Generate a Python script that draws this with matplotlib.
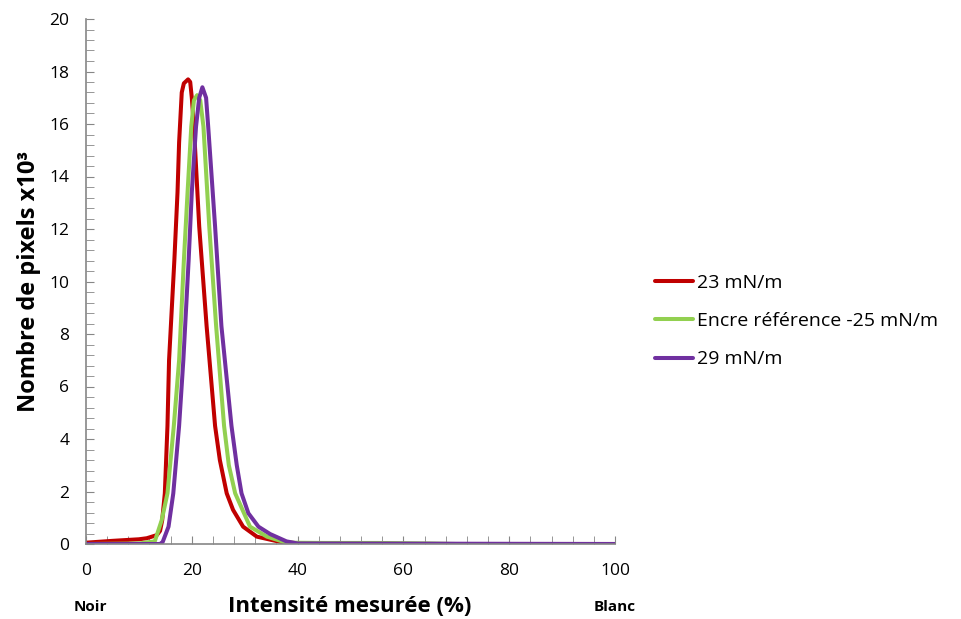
import matplotlib
matplotlib.use("Agg")
import matplotlib.pyplot as plt
from matplotlib.ticker import MultipleLocator

# Data (x: intensity %, y: pixels x10^3)
x_red = [0, 5, 10, 11.5, 13.4, 14.0, 14.4, 14.9, 15.4, 15.7, 16.7, 17.3, 17.6, 18.1, 18.5, 19.3, 19.7, 20.0, 20.4, 21.4, 22.8, 24.4, 25.3, 26.6, 27.8, 29.7, 32.3, 36.7, 40, 50, 60, 100]
y_red = [0.05, 0.12, 0.18, 0.22, 0.34, 0.5, 0.9, 1.93, 4.5, 7.0, 10.8, 13.4, 15.3, 17.2, 17.55, 17.7, 17.6, 17.0, 15.9, 12.1, 8.3, 4.5, 3.2, 1.93, 1.3, 0.66, 0.28, 0.08, 0.03, 0.01, 0.0, 0.0]

x_green = [0, 10, 13.0, 14.3, 15.4, 16.6, 17.6, 18.5, 19.2, 19.9, 20.4, 21.0, 21.6, 22.2, 23.3, 24.6, 26.1, 27.0, 28.2, 31.0, 34.2, 37.9, 45, 55, 65, 70, 100]
y_green = [0.0, 0.02, 0.1, 0.9, 1.93, 4.5, 7.0, 10.8, 13.4, 15.9, 16.9, 17.1, 16.9, 15.9, 12.1, 8.3, 4.5, 3.0, 1.93, 0.66, 0.28, 0.05, 0.04, 0.04, 0.02, 0.0, 0.0]

x_purple = [0, 14.0, 14.5, 15.6, 16.5, 17.6, 18.4, 19.4, 20.0, 20.8, 21.4, 22.0, 22.7, 23.1, 24.4, 25.6, 27.5, 28.5, 29.4, 30.7, 32.6, 34.8, 37.9, 40, 100]
y_purple = [0.0, 0.0, 0.08, 0.66, 1.93, 4.5, 7.0, 10.8, 13.4, 15.9, 17.0, 17.4, 17.0, 15.9, 12.1, 8.3, 4.5, 3.0, 1.93, 1.17, 0.66, 0.38, 0.1, 0.02, 0.0]

series_labels = ["23 mN/m", "Encre référence -25 mN/m", "29 mN/m"]
colors = ["#C00000", "#92D050", "#7030A0"]

plt.rcParams['font.family'] = ['Open Sans', 'DejaVu Sans']

fig = plt.figure(figsize=(9.61, 6.19), dpi=100)
ax = fig.add_axes([86/961, 1 - 544/619, (615-86)/961, (544-19)/619])

for xs, ys, lab, c in zip([x_red, x_green, x_purple], [y_red, y_green, y_purple], series_labels, colors):
    ax.plot(xs, ys, color=c, lw=2.9, label=lab, solid_joinstyle='round', solid_capstyle='round')

ax.set_xlim(0, 100)
ax.set_ylim(0, 20)
ax.xaxis.set_major_locator(MultipleLocator(20))
ax.xaxis.set_minor_locator(MultipleLocator(4))
ax.yaxis.set_major_locator(MultipleLocator(2))
ax.yaxis.set_minor_locator(MultipleLocator(0.4))
for s in ['top', 'right']:
    ax.spines[s].set_visible(False)
for s in ['left', 'bottom']:
    ax.spines[s].set_color('#868686')
    ax.spines[s].set_linewidth(1.2)
ax.tick_params(axis='both', which='both', direction='in', color='#868686', labelsize=12.5, labelcolor='black')
ax.tick_params(axis='both', which='major', length=6)
ax.tick_params(axis='both', which='minor', length=6)
ax.tick_params(axis='x', which='major', pad=14)
ax.tick_params(axis='y', which='major', pad=12)

ax.set_ylabel("Nombre de pixels x10³", fontsize=17, fontweight='bold', labelpad=6)
fig.text(350/961, 1 - 606/619, "Intensité mesurée (%)", fontsize=16, fontweight='bold', ha='center', va='center')
fig.text(90/961, 1 - 607/619, "Noir", fontsize=11, fontweight='bold', ha='center', va='center')
fig.text(615/961, 1 - 607/619, "Blanc", fontsize=11, fontweight='bold', ha='center', va='center')

leg = fig.legend(loc='center left', bbox_to_anchor=(637/961, 1 - 321/619), frameon=False,
                 fontsize=14, handlelength=2.0, handletextpad=0.2, labelspacing=1.05)

fig.savefig("out.png", dpi=100)
